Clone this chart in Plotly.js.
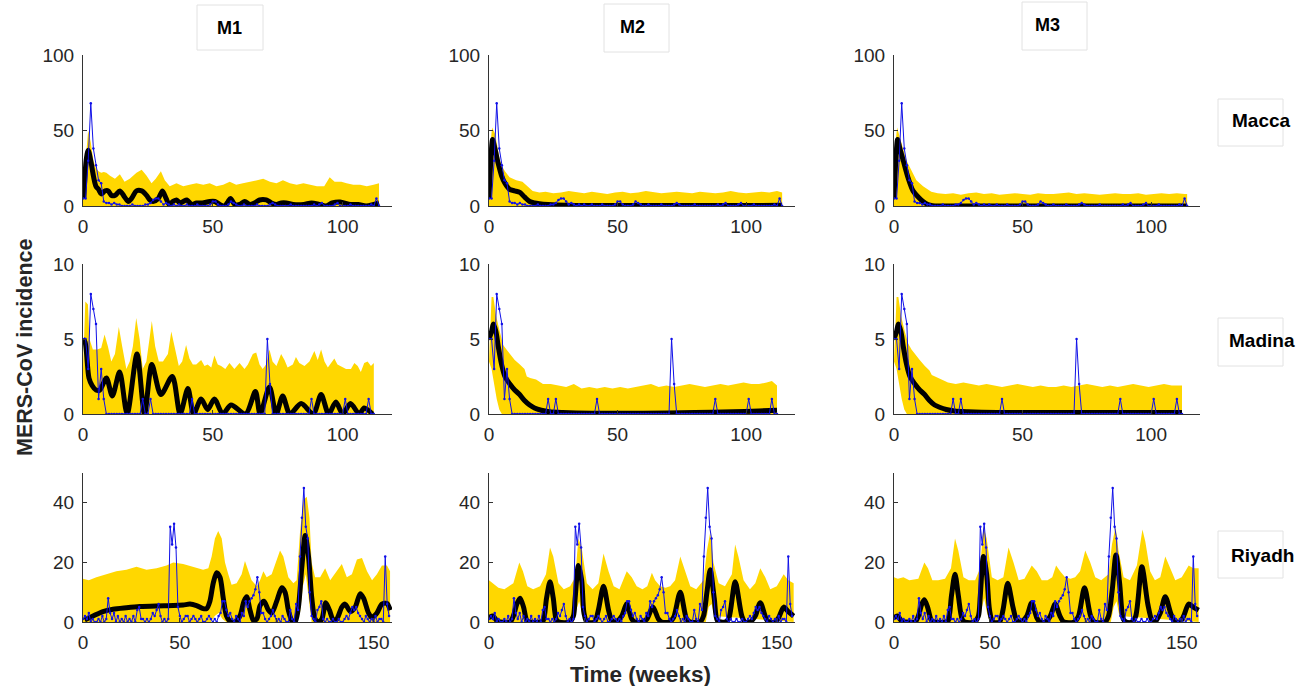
<!DOCTYPE html>
<html><head><meta charset="utf-8">
<script src="https://cdn.plot.ly/plotly-3.0.1.min.js"></script>
<style>html,body{margin:0;padding:0;background:#fff;}#chart{width:1314px;height:686px;}</style>
</head><body><div id="chart"></div>
<script>
// ---------- labels ----------
const models = ["M1", "M2", "M3"];
const regions = ["Macca", "Madina", "Riyadh"];
const yTitle = "MERS-CoV incidence";
const xTitle = "Time (weeks)";
const xTicksShort = [0, 50, 100];
const xTicksLong = [0, 50, 100, 150];
const yTicksMacca = [0, 50, 100];
const yTicksMadina = [0, 5, 10];
const yTicksRiyadh = [0, 20, 40];

// ---------- observed weekly incidence (blue) ----------
const maccaObs = [5,5,30,68,38,27,17,15,3,2, 2,1,2,1,1,0,0,0,0,1, 0,0,0,0,1,1,2,4,5,5, 3,1,2,1,0,1,0,1,0,0,
  1,0,0,0,1,0,0,0,0,1, 3,3,1,0,0,0,1,3,2,1, 0,0,1,0,0,0,0,1,0,0, 0,0,1,2,1,0,0,0,0,0,
  1,0,0,0,0,0,0,0,0,1, 0,1,2,0,0,0,0,1,2,0, 0,0,0,1,0,0,0,0,0,0, 0,1,0,5,0];
const madinaObs = [5,5,3,8,7,6,1,3,1,0, 0,0,0,0,0,0,0,0,0,0, 0,0,0,1,0,0,1,0,0,0, 0,0,0,0,0,0,0,0,0,0,
  0,0,1,0,0,0,0,0,0,0, 0,0,0,0,0,0,0,0,0,0, 0,0,0,0,0,0,0,0,0,0, 0,5,2,0,0,0,0,0,0,0,
  0,0,0,0,0,0,0,0,1,0, 0,0,0,0,0,0,0,0,0,0, 0,1,0,0,0,0,0,0,0,0, 1,0,0];
const riyadhObs = [1,2,1,3,0,1,0,0,1,0, 2,0,1,8,3,1,3,0,2,0, 1,0,2,0,1,0,2,0,4,5, 1,1,0,1,0,1,3,2,4,6,
  2,0,1,0,1,32,26,33,25,5, 2,0,1,2,2,0,1,2,1,0, 1,2,0,0,1,2,1,0,1,0, 2,3,7,7,4,2,3,1,0,2,
  1,0,3,2,7,5,7,8,9,11, 15,10,3,3,1,0,1,2,4,2, 0,1,0,2,1,0,0,4,1,0, 6,4,22,35,45,32,28,10,2,1,
  0,4,5,7,1,0,1,0,0,1, 0,0,1,0,0,1,2,1,3,5, 4,5,3,2,1,0,2,1,0,1, 0,2,0,1,1,0,22,6,2];

// ---------- Macca ----------
const maccaM1MeanX = [0.3,1.2,2,3,4,5,6,7,8.5,9.7,11,12.3,14.2,16,17.4,18.7,20.6,22.6,24.5,25.8,27,29,30.6,32,33.2,34.7,36,37.3,38.6,40,41.8,43.7,46,48.8,50.8,52.7,54.6,55.9,56.8,58.5,60.4,62.3,64.2,66,68,70.6,72.6,74.5,76.4,78.3,81,85,88,91,93.6,96,99,103,106,109,112,114];
const maccaM1MeanY = [5,30,37,30,20,13,11,8,10,10,7,7,10,6,3,5,10,10,7,4,3,5,10,5,1,3,4,2,3,4,1,2,2,3,3,1,0,3,5,1,1,3,1,2,4,4,2,1,2,2,1,1,2,1,0,2,2.6,1,1,0,1,2];
const maccaM1HiX = [0,1,2,3,4,5,6,7,8,9,10.4,12.3,14.2,16,18,20.6,22.6,24.5,26.4,28,30,31.5,33.4,36,38.6,41,43.7,46.3,48.8,51.4,54,56.5,59,61.6,64.2,66.8,69.4,72,74.5,77,79.7,82.3,84.9,87.5,90.1,92.9,95,96.9,99.5,101.5,104.1,106.7,109.3,111.9,114];
const maccaM1HiY = [10,30,50,42,30,25,23,22,22.5,22,20,18,21,16,18,22,24,20,15,18,23,17,13,15,13,14,15,14,15,13,14,16,14,15,16,17,18,16,15,17,15,14,15,14,13,13,19,16,16,15,14,14,13,14,15];
const maccaM1LoX = [0,114];
const maccaM1LoY = [0,0];

const maccaM2MeanX = [0,0.7,1.4,2.3,3.6,4.9,6.2,8,10,12,13.8,15.8,17.7,19.6,23,30,40,60,80,100,114];
const maccaM2MeanY = [5,30,44,38,28,20,15,11,10,9,6,3,2,1.5,1,0.5,0.3,0.3,0.3,0.3,0.5];
const maccaM2HiX = [0,0.5,1.2,2.3,3.2,4.2,5.2,6.2,8,10.6,13,15,17,19.6,22,25,28,31,34,37,40,43,46,49,52,55,58,61,64,67,70,73,76,79,82,85,88,91,94,97,100,103,106,109,112,114];
const maccaM2HiY = [10,40,52,48,40,30,26,23,19,17,16,13,10,9,9.5,8.5,9,10,9,8.5,9.5,9,8,9,9.5,8.5,9,10,9,8.5,9,9.5,9,8.5,9.5,9,8.5,9,10,9,8.5,9,9.5,9,10,9];
const maccaM2LoX = [0,114];
const maccaM2LoY = [0,0];

const maccaM3MeanX = [0,0.7,1.4,2.3,3.6,5.5,7.4,9.4,11.3,13.2,15,18,30,60,90,114];
const maccaM3MeanY = [5,30,44,38,30,18.5,10,6,3,1,0.2,0,0,0,0,0];
const maccaM3HiX = [0,0.5,1.2,2.3,3.5,4.9,6.8,8.7,11.3,14.5,17,20,23,26,29,32,35,38,41,44,47,50,53,56,59,62,65,68,71,74,77,80,83,86,89,92,95,98,101,104,107,110,113,114];
const maccaM3HiY = [10,40,52,46,38,30,23,17,13,9.5,8.5,8,8.5,7.5,8.5,9,8,8.5,7.5,8,8.5,8,7.5,8.5,8,8,8.5,9,8,8.5,8,7.5,8,8.5,8,8,8.5,7.5,8,8.5,8,8.5,8,8];
const maccaM3LoX = [0,114];
const maccaM3LoY = [0,0];

// ---------- Madina ----------
const madinaM1MeanX = [0,0.8,2.3,3.5,5,6.5,9,11.3,14.1,17,20.8,23.7,26.5,30,34.4,37.4,40.4,42.6,45.5,48,50.6,53.8,57,62.6,66.4,68.2,71.8,74.4,76.9,79.7,84,88.7,91.7,94.6,97.4,100,103,106.4,108.3,111.5];
const madinaM1MeanY = [5,4.8,2.4,1.9,1.6,1.6,2.4,1.2,2.8,0,4,0,3.3,1.3,2.5,0,1.7,0,1,0.3,1,0,0.6,0,1.5,0,1.8,0,1.2,0,0.7,0,1.3,0,0.8,0,0.7,0,0.4,0];
const madinaM1HiX = [0,0.9,1.9,2.5,3.8,5.5,7,8.3,9.6,10.9,12.3,13.8,15.1,16.7,18,19.2,20.5,21.8,23,24.4,25.6,26.5,27.8,29.2,30.8,32.7,34,35.3,36.9,38.2,39.7,41,42.3,43.6,45.5,46.8,48,49.4,50.6,51.9,53.2,54.8,56.4,58.3,60.3,62.2,63.5,65.4,66.7,68,69.2,70.5,71.8,73,74.5,76.3,77.6,78.8,80.8,82,83.3,85.3,87.2,89.1,90.4,91.7,93,94.3,96.8,98,100,101.3,103.2,104.5,105.8,107,108.3,109.6,110.9,112];
const madinaM1HiY = [3,7.5,7.3,5,4.3,4.3,4.4,5.3,4.5,3.5,4,5.8,4.5,3,3.5,4.5,6.4,5,3,3.5,5,6.2,4.5,3.5,3.5,4,5.5,4.5,3.2,3.5,4.6,3.7,3.3,3.3,3.6,3.2,3.3,3.1,3.9,3.3,3.2,3.0,3.4,3.0,3.4,3.0,3.3,4.0,4.1,3.3,3.0,3.3,4.3,3.5,3.2,4.0,3.6,3.1,3.3,3.8,3.4,3.2,3.5,4.2,3.6,4.3,3.5,3.1,3.7,3.3,3.1,3.0,3.0,3.4,3.2,2.8,3.4,3.5,3.2,3.4];
const madinaM1LoX = [0,112];
const madinaM1LoY = [0,0];

const madinaM2MeanX = [0,1,1.7,2.7,3.6,4.9,6.2,8.1,10,11.9,13.8,15.8,17.7,20.3,23.5,28.6,40,60,80,95,105,112];
const madinaM2MeanY = [5,5.5,6,5.5,4.5,3.3,2.5,2,1.6,1.3,0.9,0.6,0.4,0.25,0.15,0.1,0.05,0.05,0.1,0.15,0.2,0.25];
const madinaHiX = [0,0.5,1,1.7,2.8,4.2,5.5,6.8,8.1,10,12,13.8,14.7,16,18.3,21,24,27,30,33,36,39,42,45,48,51,54,57,60,63,66,69,72,75,78,81,84,87,90,93,96,99,102,105,108,110,112];
const madinaM2HiY = [3.5,6,7.8,7.8,6.5,5.5,4.6,4.3,4,3.6,3.3,3,2.5,2.4,2.3,2.0,2.0,1.9,1.8,2.0,1.7,1.8,1.7,1.8,1.7,1.8,1.7,1.8,1.9,2.0,1.8,1.9,1.8,1.9,2.0,1.9,1.8,1.9,2.0,1.9,2.0,2.1,2.0,2.0,2.1,2.2,1.9];
const madinaM2LoX = [0,1,2,3,4,5,112];
const madinaM2LoY = [3.5,3,2,1,0.3,0,0];

const madinaM3MeanY = [5,5.5,6,5.5,4.5,3.3,2.5,2,1.6,1.3,0.9,0.6,0.45,0.3,0.2,0.15,0.1,0.1,0.1,0.1,0.1,0.1];
const madinaM3HiY = [3.5,6,7.8,7.8,6.5,5.5,4.7,4.3,4,3.6,3.2,2.9,2.6,2.5,2.3,2.1,2.0,2.1,2.0,1.9,2.0,1.9,1.8,1.9,2.0,1.9,1.8,1.9,1.8,1.8,1.9,1.8,1.9,2.0,1.9,1.8,1.9,1.8,1.9,2.0,1.9,1.8,1.9,2.0,1.9,1.9,1.9];

// ---------- Riyadh ----------
const riyadhM1MeanX = [0.9,5.2,10.3,15.5,22.4,29.3,38,46.6,51.7,55.2,58.6,62,63.8,65.5,67.2,69,70.7,72.4,74.1,75.9,78.4,81,83.1,84.5,86.2,88,89.7,91.4,93.4,95.7,97.4,100,102.6,104.3,106,107.8,109.5,111.2,112.9,114.7,116.4,118.1,119.8,121.6,123.3,125.3,127.2,129.3,131,133.6,135.3,138,140.5,143.1,144.8,147.4,149.1,151.7,154.3,156.9,158.6];
const riyadhM1MeanY = [0.7,2,3.5,4.3,4.8,5.2,5.4,5.5,5.7,6,5.5,4.5,4.5,7,13,16.5,15,8,2,0.3,0,2,7,8.5,4,0.5,1,5.5,7,4,3,7,11.5,10,4,0.5,0,5,18,29,22,8,1,0,1,6.5,4,0.5,1,5,6,3.5,5,9.5,8,3,1.5,3,6,6.2,4];
const riyadhM1HiX = [0,3,6.9,12,17.2,22.4,27.6,32.8,38,43.1,46.6,51.7,56.9,62,64.7,66.4,68.1,69.8,71.6,73.3,75,76.7,79.3,81.9,83.6,85.3,87,89.7,91.4,93.1,94.8,97.4,99.1,100.9,101.7,103.4,106,108.6,110.3,112,113.8,115.5,116.9,118,119.8,122.4,125,127.6,131,133.6,136.2,138.8,141.4,144,146.6,149.2,151.7,154.3,156.9,158.5];
const riyadhM1HiY = [14.5,14,15,16,17,17.5,18.5,17.5,18,19,20,19.5,18.5,17.5,18,22,28,30.5,28,20,16,12.5,13,16,20.5,17,14,12,14,17,15,16,19,22,24,22,15,13,14,30,41,42,35,20,15,15,18,14,17,19.5,15,16,21,21.5,17,14,16,19,19,17];
const riyadhM1LoX = [0,66,68,70,72,74,110,112,113.5,115,116.5,118,158.5];
const riyadhM1LoY = [0,0,2,3,1,0,0,3,12,16,8,0,0];

const riyadhM2MeanX = [0,2,4,6,11,12.7,14.5,16.2,18,19.7,21,27,28.3,30,31.8,33.5,35,36.5,42,44,44.9,46.6,48.3,49.5,51,55,57,59.7,62.3,64,66,69.2,71.8,74.4,76,80,82.3,85.4,88.3,90,94,96.2,99.7,103,105,110,111.8,113.6,115.3,117.4,119,121,123,124.9,128.3,131.8,133.5,136,138.8,141.4,144.5,146,149,151,153.6,156,158.8];
const riyadhM2MeanY = [1.5,2,0.5,0,0,2,6,8,5,0.5,0,0,0.5,8,13.5,8,1,0,0,2,8,19,14,3,0,0,4,12,4,0.5,0,2,6,1,0,0,1,5,1,0,0,1.5,10,1,0,0,2,10,17.5,8,0.5,0,0,1,13.5,2,0,0,2,6.5,1,0,0,1.5,5,3.5,2];
const riyadhM2HiX = [0,2,4.9,8,12.7,15.8,17.7,20,23,26.6,29.7,31.8,33.5,36.2,39,42.3,44.9,46.6,48.3,51,54,57,59.7,62.3,65,68,71.8,74.4,77,80,82.5,84.9,86.6,89.2,92,94.4,97,99.7,102.3,104.9,108,111.8,113.6,115.3,117,119.7,123,126.6,128.3,130,132.7,136,138.8,141.4,144,146.6,150,153.6,156,158.8];
const riyadhM2HiY = [14,13,11.5,11,13,20,17,12,11,12,16,25,22,13,11,12,15,28,25,13,11,13,23,17,12,11,17,15,12,11,12,16.5,14,12,11.5,12,14,22,17,12,11,14,24,30,20,13,12,16,26,22,14,11,13,18,15,11,12,16,14,13];
const riyadhM2LoX = [0,44,45.5,47,48.5,50,113,114.5,116,117.5,158.8];
const riyadhM2LoY = [0,0,4,7,3,0,0,5,6,2,0];

const riyadhM3MeanX = [0,2,4,6,11,12.7,14.5,15.8,17.5,19.5,21,27,28.3,30,31.8,33.5,35.5,37,42,44,45,46.6,48.3,49.8,51.5,55,56.8,59.3,62,64,66,69.2,71.8,74.4,76,79,81.5,84,86.5,88.5,94,96.2,99.3,102.5,104.5,110,111.8,113.8,115.7,117.6,119.5,121,124,126,129.2,132.3,134.5,136,138.8,141.4,144.2,146,149,151,153.6,156,158.8];
const riyadhM3MeanY = [1.5,2,0.3,0,0,2,6,7.5,5,0.5,0,0,0.5,9,16,9,1,0,0,2,9,22,16,4,0,0,4,13,5,0.5,0,2,6.5,1.5,0,0,2,6,2,0,0,2,11.5,2,0,0,2,11,22.5,13,1,0,0,2,18.5,6,0.5,0,3,8.5,3,0.5,0,2,6,5,4];
const riyadhM3HiX = [0,2,4.9,8,12.7,15.8,17.7,20,23,26.6,29.7,31.8,33.5,36.2,39,42.3,44.9,46.6,48.3,51,54,57,59.7,62.3,65,68,71.8,74.4,77,80,82.5,84.5,86.6,89.2,92,94.4,97,99.7,102.3,104.9,108,111.8,113.6,115.5,117,119.7,123,126.6,129.5,131,133.5,136,138.8,141.4,144,146.6,150,153.6,156,158.8];
const riyadhM3HiY = [15,14.5,15,14,14.5,20,18,14,14,14.5,18,28,24,15,14,14,18,32,28,15,14,15,25,20,14,14.5,19,17,14,14,15,19,17,15,14.5,15,17,24,20,15,14,16,26,32,24,15,14,19,31,27,17,14,15,22,18,14,15,19,18,18];
const riyadhM3LoX = [0,44,45.5,47,48.5,50,113,114.5,116,117.5,158.8];
const riyadhM3LoY = [0,0,4,8,3,0,0,5,7,2,0];

// ---------- assemble ----------
const obsByRow = [maccaObs, madinaObs, riyadhObs];
const panels = [
  [ {mx:maccaM1MeanX,my:maccaM1MeanY,hx:maccaM1HiX,hy:maccaM1HiY,lx:maccaM1LoX,ly:maccaM1LoY},
    {mx:maccaM2MeanX,my:maccaM2MeanY,hx:maccaM2HiX,hy:maccaM2HiY,lx:maccaM2LoX,ly:maccaM2LoY},
    {mx:maccaM3MeanX,my:maccaM3MeanY,hx:maccaM3HiX,hy:maccaM3HiY,lx:maccaM3LoX,ly:maccaM3LoY} ],
  [ {mx:madinaM1MeanX,my:madinaM1MeanY,hx:madinaM1HiX,hy:madinaM1HiY,lx:madinaM1LoX,ly:madinaM1LoY},
    {mx:madinaM2MeanX,my:madinaM2MeanY,hx:madinaHiX,hy:madinaM2HiY,lx:madinaM2LoX,ly:madinaM2LoY},
    {mx:madinaM2MeanX,my:madinaM3MeanY,hx:madinaHiX,hy:madinaM3HiY,lx:madinaM2LoX,ly:madinaM2LoY} ],
  [ {mx:riyadhM1MeanX,my:riyadhM1MeanY,hx:riyadhM1HiX,hy:riyadhM1HiY,lx:riyadhM1LoX,ly:riyadhM1LoY},
    {mx:riyadhM2MeanX,my:riyadhM2MeanY,hx:riyadhM2HiX,hy:riyadhM2HiY,lx:riyadhM2LoX,ly:riyadhM2LoY},
    {mx:riyadhM3MeanX,my:riyadhM3MeanY,hx:riyadhM3HiX,hy:riyadhM3HiY,lx:riyadhM3LoX,ly:riyadhM3LoY} ]
];

const W = 1314, H = 686;
const colPx = [[83, 392], [489, 795], [894, 1200]];
const rowPx = [[55, 206], [264, 414], [473, 622]];
const xRanges = [[0, 119], [0, 119], [0, 159.5]];
const yRanges = [[0, 100], [0, 10], [0, 50]];
const yTicks = [yTicksMacca, yTicksMadina, yTicksRiyadh];
const xTicks = [xTicksShort, xTicksShort, xTicksLong];

const FONT = "Liberation Sans, Arial, Helvetica, sans-serif";
const AX = "#333333";
const traces = [];
const layout = {
  width: W, height: H, margin: {l:0, r:0, t:0, b:0},
  paper_bgcolor: "#ffffff", plot_bgcolor: "#ffffff",
  showlegend: false, annotations: [], shapes: []
};
const px = v => v / W, py = v => 1 - v / H;

for (let r = 0; r < 3; r++) {
  for (let c = 0; c < 3; c++) {
    const n = r * 3 + c + 1;
    const sfx = n === 1 ? "" : String(n);
    const p = panels[r][c];
    const xa = "x" + sfx, ya = "y" + sfx;
    traces.push({
      x: p.hx.concat(p.lx.slice().reverse()),
      y: p.hy.concat(p.ly.slice().reverse()),
      type: "scatter", mode: "lines", fill: "toself",
      fillcolor: "#FFD700", line: {width: 0, color: "#FFD700"},
      xaxis: xa, yaxis: ya, hoverinfo: "skip"
    });
    traces.push({
      x: p.mx, y: p.my, type: "scatter", mode: "lines",
      line: {color: "#000000", width: 5, shape: "spline", smoothing: 0.8},
      xaxis: xa, yaxis: ya
    });
    const obs = obsByRow[r];
    traces.push({
      x: obs.map((v, i) => i), y: obs, type: "scatter", mode: "lines+markers",
      line: {color: "#1010E8", width: 1}, marker: {color: "#1010E8", size: 2.5},
      xaxis: xa, yaxis: ya
    });
    layout["xaxis" + sfx] = {
      domain: [px(colPx[c][0]), px(colPx[c][1])], range: xRanges[r], anchor: ya,
      showline: true, linecolor: AX, linewidth: 1, ticks: "inside", ticklen: 4, tickcolor: AX,
      tickvals: xTicks[r], showgrid: false, zeroline: false, fixedrange: true, ticklabelstandoff: 3,
      tickfont: {family: FONT, size: 19, color: "#262626"}
    };
    layout["yaxis" + sfx] = {
      domain: [py(rowPx[r][1]), py(rowPx[r][0])], range: yRanges[r], anchor: xa,
      showline: true, linecolor: AX, linewidth: 1, ticks: "inside", ticklen: 4, tickcolor: AX,
      tickvals: yTicks[r], showgrid: false, zeroline: false, fixedrange: true, ticklabelstandoff: 4,
      tickfont: {family: FONT, size: 19, color: "#262626"}
    };
  }
}

const topBoxes = [[197, 5, 263, 50], [604, 4, 669, 52], [1022, 2, 1087, 50]];
const topText = [[229, 28], [632, 27], [1047, 25]];
const sideBoxes = [[1218, 99, 1283, 146], [1218, 318, 1283, 366], [1218, 531, 1283, 578]];
const sideText = [[1261, 121], [1262, 340], [1262, 555]];
const boxLine = {color: "#e2e2e2", width: 1};
for (let i = 0; i < 3; i++) {
  const b = topBoxes[i];
  layout.shapes.push({type: "rect", xref: "paper", yref: "paper", x0: px(b[0]), x1: px(b[2]), y0: py(b[3]), y1: py(b[1]), line: boxLine});
  layout.annotations.push({text: "<b>" + models[i] + "</b>", xref: "paper", yref: "paper", x: px(topText[i][0]), y: py(topText[i][1]),
    xanchor: "center", yanchor: "middle", showarrow: false, font: {family: FONT, size: 18, color: "#000"}});
  const s = sideBoxes[i];
  layout.shapes.push({type: "rect", xref: "paper", yref: "paper", x0: px(s[0]), x1: px(s[2]), y0: py(s[3]), y1: py(s[1]), line: boxLine});
  layout.annotations.push({text: "<b>" + regions[i] + "</b>", xref: "paper", yref: "paper", x: px(sideText[i][0]), y: py(sideText[i][1]),
    xanchor: "center", yanchor: "middle", showarrow: false, font: {family: FONT, size: 19, color: "#000"}});
}
layout.annotations.push({text: "<b>" + yTitle + "</b>", xref: "paper", yref: "paper", x: px(25), y: py(348),
  xanchor: "center", yanchor: "middle", textangle: -90, showarrow: false, font: {family: FONT, size: 21.5, color: "#262626"}});
layout.annotations.push({text: "<b>" + xTitle + "</b>", xref: "paper", yref: "paper", x: px(640), y: py(674),
  xanchor: "center", yanchor: "middle", showarrow: false, font: {family: FONT, size: 22.5, color: "#262626"}});

Plotly.newPlot("chart", traces, layout, {displayModeBar: false, staticPlot: true});
</script>
</body></html>
